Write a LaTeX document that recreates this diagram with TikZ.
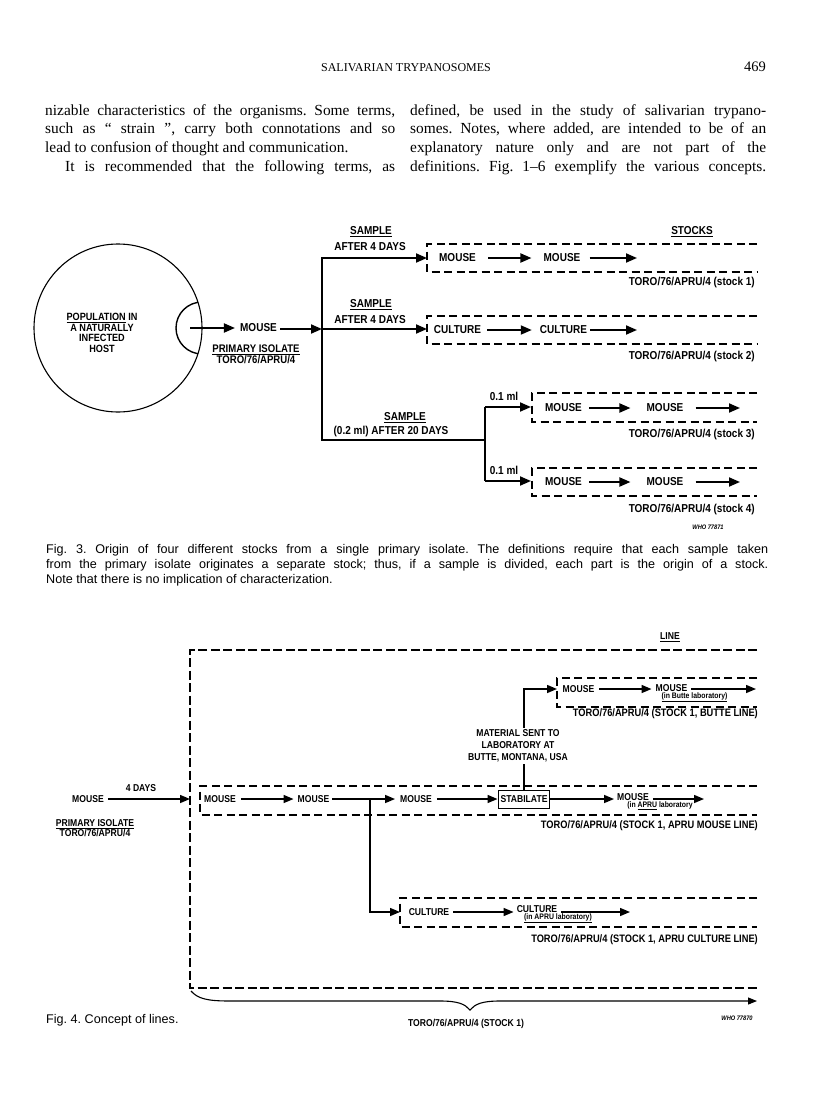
\documentclass[tikz,border=0pt]{standalone}
\usepackage{fontspec}
\setmainfont{Liberation Serif}
\newfontfamily\dg[FakeStretch=0.87]{Liberation Sans}
\newfontfamily\dgf[FakeStretch=0.86]{Liberation Sans}
\newfontfamily\capfont{Liberation Sans}
\usetikzlibrary{arrows.meta}
\begin{document}
\frenchspacing
\begin{tikzpicture}[x=1pt,y=-1pt,
  lab/.style={font=\dg\bfseries\fontsize{11.5}{10}\selectfont, inner sep=0pt},
  tor/.style={font=\dg\bfseries\fontsize{11.5}{11}\selectfont, inner sep=0pt, anchor=east},
  ff/.style={font=\dgf\bfseries\fontsize{10}{10}\selectfont, inner sep=0pt},
  tor4/.style={font=\dgf\bfseries\fontsize{10.8}{10}\selectfont, inner sep=0pt, anchor=east},
  lab4/.style={font=\dgf\bfseries\fontsize{8}{8}\selectfont, inner sep=0pt},
  arr/.style={line width=1.9pt,-{Triangle[length=11pt,width=9pt]}},
  arrf/.style={line width=1.5pt,-{Triangle[length=10pt,width=8pt]}},
  ln/.style={line width=1.9pt},
  lnf/.style={line width=1.5pt},
  dbox/.style={line width=1.1pt,dash pattern=on 8pt off 4.5pt},
  fbox/.style={line width=1.5pt,dash pattern=on 9pt off 3.5pt},
  who/.style={font=\dg\bfseries\itshape\fontsize{6.5}{6.5}\selectfont, inner sep=0pt},
  body/.style={anchor=north west, inner sep=0pt, align=justify, font=\fontsize{15.4}{18.8}\selectfont},
]
\useasboundingbox (0,0) rectangle (816,1111);
\fill[white] (0,0) rectangle (816,1111);

% ---------- header and body text ----------
\node[font=\fontsize{12}{12}\selectfont, inner sep=0pt] (head) at (406,68) {SALIVARIAN TRYPANOSOMES};
\node[font=\fontsize{14.5}{14}\selectfont, inner sep=0pt, anchor=east] (pno) at (766,67) {469};
\node[body, text width=350pt] (col1) at (45,104) {nizable characteristics of the organisms. Some terms,\linebreak
such as “ strain ”, carry both connotations and so\linebreak
lead to confusion of thought and communication.\par
\hspace*{1.3em}It is recommended that the following terms, as\parfillskip=0pt\par};
\node[body, text width=356pt] (col2) at (410,104) {defined, be used in the study of salivarian trypano-\linebreak
somes. Notes, where added, are intended to be of an\linebreak
explanatory nature only and are not part of the\linebreak
definitions. Fig. 1–6 exemplify the various concepts.\parfillskip=0pt\par};

% ---------- Fig. 3 ----------
\node[circle, draw, line width=1.1pt, minimum size=168pt, inner sep=0pt] (host) at (118,328) {};
\begin{scope}
  \clip (118,328) circle[radius=84pt];
  \draw[line width=1.4pt] (202,328) circle[radius=26pt];
\end{scope}
\node[lab, align=center, font=\dg\bfseries\fontsize{10.5}{10.6}\selectfont] (pop) at (102,333) {\underline{POPULATION} IN\\A NATURALLY\\INFECTED\\HOST};
\coordinate (a0) at (190,328);
\node[lab] (m0) at (258.5,328) {MOUSE};
\node[lab, align=center, font=\dg\bfseries\fontsize{11}{9.6}\selectfont] (pi) at (256,354) {\underline{PRIMARY ISOLATE}\\TORO/76/APRU/4};
\draw[arr, shorten >=5pt] (a0) -- (m0.west);

\coordinate (tt) at (322,258);
\coordinate (tm) at (322,329);
\coordinate (tb) at (322,440);
\coordinate (sb) at (485,440);
\coordinate (st) at (485,407);
\coordinate (sl) at (485,481);
\draw[arr, shorten <=3pt] (m0.east |- tm) -- (tm);
\draw[ln, line cap=rect] (tt) -- (tb) -- (sb);
\draw[ln] (st) -- (sl);

% boxes
\draw[dbox] (757,244) -- (427,244) -- (427,272) -- (757,272);
\draw[dbox] (757,316) -- (427,316) -- (427,344) -- (757,344);
\draw[dbox] (757,393) -- (532,393) -- (532,422) -- (757,422);
\draw[dbox] (757,468) -- (532,468) -- (532,496) -- (757,496);
\coordinate (b1) at (427,258);
\coordinate (b2) at (427,329);
\coordinate (b3) at (531,407);
\coordinate (b4) at (531,481);
\draw[arr] (tt) -- (b1);
\draw[arr] (tm) -- (b2);
\draw[arr] (st) -- (b3);
\draw[arr] (sl) -- (b4);

\node[lab] (s1a) at (371,232) {\underline{SAMPLE}};
\node[lab] (s1b) at (370,247) {AFTER 4 DAYS};
\node[lab] (s2a) at (371,305) {\underline{SAMPLE}};
\node[lab] (s2b) at (370,320) {AFTER 4 DAYS};
\node[lab] (s3a) at (405,418) {\underline{SAMPLE}};
\node[lab] (s3b) at (391,432) {(0.2 ml) AFTER 20 DAYS};
\node[lab] (v1) at (504,396) {0.1 ml};
\node[lab] (v2) at (504,470) {0.1 ml};
\node[lab] (stocks) at (692,232) {\underline{STOCKS}};

\node[lab] (k1a) at (457.5,258) {MOUSE};
\node[lab] (k1b) at (562,258) {MOUSE};
\coordinate (k1e) at (637,258);
\draw[arr, shorten <=12pt, shorten >=12pt] (k1a.east) -- (k1b.west);
\draw[arr, shorten <=9pt] (k1b.east) -- (k1e);

\node[lab] (k2a) at (457.5,330) {CULTURE};
\node[lab] (k2b) at (563.5,330) {CULTURE};
\coordinate (k2e) at (637,330);
\draw[arr, shorten <=6pt, shorten >=8pt] (k2a.east) -- (k2b.west);
\draw[arr, shorten <=3pt] (k2b.east) -- (k2e);

\node[lab] (k3a) at (563.5,408) {MOUSE};
\node[lab] (k3b) at (665,408) {MOUSE};
\coordinate (k3e) at (740,408);
\draw[arr, shorten <=7pt, shorten >=16pt] (k3a.east) -- (k3b.west);
\draw[arr, shorten <=12pt] (k3b.east) -- (k3e);

\node[lab] (k4a) at (563.5,482) {MOUSE};
\node[lab] (k4b) at (665,482) {MOUSE};
\coordinate (k4e) at (740,482);
\draw[arr, shorten <=7pt, shorten >=16pt] (k4a.east) -- (k4b.west);
\draw[arr, shorten <=12pt] (k4b.east) -- (k4e);

\node[tor] (t1) at (755,283) {TORO/76/APRU/4 (stock 1)};
\node[tor] (t2) at (755,357) {TORO/76/APRU/4 (stock 2)};
\node[tor] (t3) at (755,435) {TORO/76/APRU/4 (stock 3)};
\node[tor] (t4) at (755,510) {TORO/76/APRU/4 (stock 4)};
\node[who] (w3) at (708,527) {WHO 77871};

\node[anchor=north west, inner sep=0pt, text width=722pt, align=justify, font=\capfont\fontsize{12.6}{15}\selectfont] (cap3) at (46,544) {Fig. 3. Origin of four different stocks from a single primary isolate. The definitions require that each sample taken\linebreak
from the primary isolate originates a separate stock; thus, if a sample is divided, each part is the origin of a stock.\linebreak
Note that there is no implication of characterization.};

% ---------- Fig. 4 ----------
\node[ff] (line) at (670,637) {\underline{LINE}};
\draw[fbox] (757,650) -- (190,650) -- (190,988) -- (757,988);
\draw[dbox] (757,678) -- (557,678) -- (557,707) -- (757,707);
\draw[dbox] (757,786) -- (200,786) -- (200,815) -- (757,815);
\draw[dbox] (757,898) -- (400,898) -- (400,927) -- (757,927);

% main row
\node[ff] (p0) at (88,799) {MOUSE};
\node[ff] (d4) at (141,788) {4 DAYS};
\coordinate (fw) at (190,799);
\draw[arrf, shorten <=4pt] (p0.east) -- (fw);
\node[ff, align=center, font=\dgf\bfseries\fontsize{10}{10}\selectfont] (pi4) at (95,828) {\underline{PRIMARY ISOLATE}\\TORO/76/APRU/4};

\node[ff] (am1) at (220,799) {MOUSE};
\node[ff] (am2) at (313.5,799) {MOUSE};
\node[ff] (am3) at (416,799) {MOUSE};
\node[ff, draw, line width=1pt, inner sep=2.5pt, minimum height=18pt] (stab) at (524,799) {STABILATE};
\node[ff] (am4) at (633,797) {MOUSE};
\node[lab4] (am4l) at (660,806) {(in \underline{APRU} laboratory};
\coordinate (ame) at (704,799);
\coordinate (br) at (370,799);
\draw[arrf, shorten <=5pt, shorten >=4pt] (am1.east) -- (am2.west);
\draw[arrf, shorten <=3pt, shorten >=5pt] (am2.east) -- (am3.west);
\draw[arrf, shorten <=5pt] (am3.east) -- (stab.west);
\draw[arrf, shorten >=3pt] (stab.east) -- (am4.west |- stab.east);
\draw[arrf, shorten <=4pt] (am4.east |- ame) -- (ame);

% Butte branch
\node[ff, align=center, inner sep=2pt, font=\dgf\bfseries\fontsize{10}{12}\selectfont] (mat) at (518,746) {MATERIAL SENT TO\\LABORATORY AT\\BUTTE, MONTANA, USA};
\coordinate (bw) at (557,689);
\draw[lnf] (stab.north) -- (stab.north |- mat.south);
\draw[arrf] (stab.north |- mat.north) |- (bw);
\node[ff] (bm1) at (578.5,689) {MOUSE};
\node[ff] (bm2) at (671.5,688) {MOUSE};
\node[lab4] (bm2l) at (694.5,697) {\underline{(in Butte laboratory)}};
\coordinate (bme) at (756,689);
\draw[arrf, shorten <=5pt, shorten >=4pt] (bm1.east) -- (bm2.west |- bm1.east);
\draw[arrf, shorten <=4pt] (bm2.east |- bme) -- (bme);

% culture branch
\coordinate (cw) at (400,912);
\draw[arrf] (br) |- (cw);
\node[ff] (cm1) at (429,912) {CULTURE};
\node[ff] (cm2) at (537,909) {CULTURE};
\node[lab4] (cm2l) at (558,918) {\underline{(in APRU laboratory)}};
\coordinate (cme) at (630,912);
\draw[arrf, shorten <=4pt, shorten >=3pt] (cm1.east) -- (cm2.west |- cm1.east);
\draw[arrf, shorten <=4pt] (cm2.east |- cme) -- (cme);

\node[tor4] (u1) at (758,714) {TORO/76/APRU/4 (STOCK 1, BUTTE LINE)};
\node[tor4] (u2) at (758,826) {TORO/76/APRU/4 (STOCK 1, APRU MOUSE LINE)};
\node[tor4] (u3) at (758,940) {TORO/76/APRU/4 (STOCK 1, APRU CULTURE LINE)};

% brace
\coordinate (bs) at (191,991);
\coordinate (bt) at (470,1010);
\coordinate (be) at (757,1001);
\draw[line width=1.1pt, -{Triangle[length=9pt,width=7pt]}] (bs) .. controls (198,999) and (208,1001) .. (230,1001) -- (440,1001) .. controls (458,1001) and (465,1004) .. (bt) .. controls (475,1004) and (482,1001) .. (500,1001) -- (be);
\node[ff] (tot) at (466,1024) {TORO/76/APRU/4 (STOCK 1)};
\node[who] (w4) at (737,1018) {WHO 77870};
\node[anchor=west, inner sep=0pt, font=\capfont\fontsize{12.6}{15}\selectfont] (cap4) at (46,1020) {Fig. 4. Concept of lines.};
\end{tikzpicture}
\end{document}
